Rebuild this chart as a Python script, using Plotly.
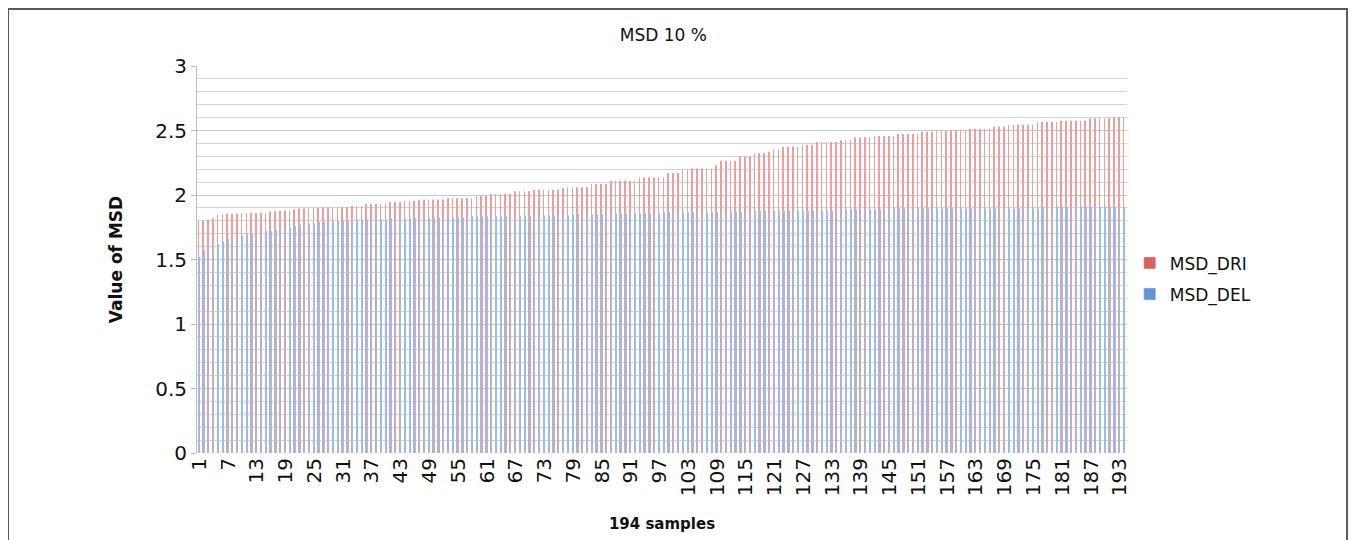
import plotly.graph_objects as go

samples = list(range(1, 195))

msd_dri = [
    1.800, 1.800, 1.810, 1.820, 1.845, 1.850, 1.855, 1.855, 1.855, 1.860,
    1.860, 1.860, 1.860, 1.860, 1.860, 1.875, 1.875, 1.880, 1.880, 1.880,
    1.890, 1.895, 1.895, 1.900, 1.900, 1.900, 1.905, 1.905, 1.905, 1.905,
    1.905, 1.905, 1.915, 1.915, 1.915, 1.930, 1.930, 1.930, 1.930, 1.930,
    1.945, 1.945, 1.945, 1.955, 1.955, 1.955, 1.960, 1.965, 1.965, 1.965,
    1.965, 1.965, 1.975, 1.975, 1.975, 1.975, 1.975, 1.975, 1.995, 1.995,
    1.995, 2.005, 2.008, 2.008, 2.010, 2.010, 2.030, 2.030, 2.030, 2.030,
    2.040, 2.040, 2.040, 2.040, 2.040, 2.040, 2.055, 2.060, 2.060, 2.060,
    2.060, 2.060, 2.085, 2.085, 2.085, 2.085, 2.110, 2.110, 2.110, 2.110,
    2.110, 2.110, 2.135, 2.135, 2.135, 2.135, 2.135, 2.135, 2.170, 2.170,
    2.170, 2.195, 2.195, 2.205, 2.205, 2.205, 2.205, 2.205, 2.230, 2.265,
    2.265, 2.265, 2.265, 2.300, 2.300, 2.300, 2.325, 2.325, 2.325, 2.335,
    2.355, 2.355, 2.375, 2.375, 2.375, 2.375, 2.390, 2.390, 2.390, 2.410,
    2.410, 2.410, 2.410, 2.410, 2.425, 2.425, 2.425, 2.445, 2.445, 2.445,
    2.445, 2.458, 2.458, 2.458, 2.458, 2.458, 2.472, 2.472, 2.472, 2.472,
    2.472, 2.490, 2.490, 2.490, 2.500, 2.500, 2.500, 2.500, 2.500, 2.500,
    2.500, 2.513, 2.513, 2.513, 2.513, 2.513, 2.530, 2.530, 2.530, 2.545,
    2.545, 2.545, 2.545, 2.545, 2.545, 2.565, 2.565, 2.565, 2.565, 2.565,
    2.575, 2.575, 2.575, 2.575, 2.575, 2.575, 2.595, 2.595, 2.595, 2.595,
    2.595, 2.603, 2.603, 2.603,
]

msd_del = [
    1.520, 1.570, 1.590, 1.610, 1.620, 1.640, 1.660, 1.665, 1.670, 1.685,
    1.700, 1.700, 1.700, 1.710, 1.720, 1.720, 1.730, 1.730, 1.740, 1.750,
    1.760, 1.770, 1.775, 1.780, 1.780, 1.790, 1.790, 1.800, 1.800, 1.800,
    1.800, 1.800, 1.800, 1.810, 1.810, 1.810, 1.810, 1.810, 1.810, 1.810,
    1.820, 1.820, 1.820, 1.820, 1.820, 1.820, 1.825, 1.825, 1.825, 1.825,
    1.825, 1.825, 1.825, 1.825, 1.825, 1.825, 1.825, 1.835, 1.835, 1.835,
    1.835, 1.835, 1.835, 1.835, 1.835, 1.835, 1.835, 1.835, 1.842, 1.842,
    1.842, 1.842, 1.842, 1.842, 1.842, 1.842, 1.842, 1.842, 1.850, 1.850,
    1.850, 1.850, 1.850, 1.850, 1.850, 1.856, 1.856, 1.856, 1.856, 1.856,
    1.856, 1.856, 1.856, 1.856, 1.856, 1.856, 1.856, 1.866, 1.866, 1.866,
    1.866, 1.866, 1.866, 1.866, 1.866, 1.866, 1.866, 1.866, 1.866, 1.866,
    1.866, 1.866, 1.866, 1.866, 1.866, 1.878, 1.878, 1.878, 1.878, 1.878,
    1.878, 1.878, 1.878, 1.878, 1.878, 1.878, 1.878, 1.878, 1.878, 1.878,
    1.878, 1.878, 1.878, 1.878, 1.889, 1.889, 1.889, 1.889, 1.889, 1.889,
    1.889, 1.889, 1.889, 1.889, 1.889, 1.896, 1.896, 1.896, 1.896, 1.896,
    1.896, 1.896, 1.896, 1.896, 1.896, 1.896, 1.896, 1.896, 1.896, 1.896,
    1.896, 1.896, 1.896, 1.896, 1.896, 1.896, 1.896, 1.896, 1.896, 1.896,
    1.896, 1.896, 1.896, 1.896, 1.896, 1.896, 1.909, 1.909, 1.909, 1.909,
    1.909, 1.909, 1.909, 1.909, 1.909, 1.909, 1.909, 1.909, 1.909, 1.909,
    1.909, 1.909, 1.909, 1.909,
]

tick_vals = [1, 7, 13, 19, 25, 31, 37, 43, 49, 55, 61, 67, 73, 79, 85, 91, 97,
             103, 109, 115, 121, 127, 133, 139, 145, 151, 157, 163, 169, 175,
             181, 187, 193]
tick_labels = [str(v) for v in tick_vals]

FONT = "DejaVu Sans"
RED = "#DA625E"
BLUE = "#6193D6"
RED_BAR = "#EA9F9C"
BLUE_BAR = "#9CBCE8"

fig = go.Figure()
fig.add_trace(go.Bar(x=samples, y=msd_dri, name="MSD_DRI", legendgroup="a",
                     showlegend=False, marker=dict(color=RED_BAR, line=dict(width=0))))
fig.add_trace(go.Bar(x=samples, y=msd_del, name="MSD_DEL", legendgroup="b",
                     showlegend=False, marker=dict(color=BLUE_BAR, line=dict(width=0))))
# legend entries in the saturated series colours
fig.add_trace(go.Bar(x=[None], y=[None], name="MSD_DRI", legendgroup="a",
                     marker=dict(color=RED)))
fig.add_trace(go.Bar(x=[None], y=[None], name="MSD_DEL", legendgroup="b",
                     marker=dict(color=BLUE)))

# page has an 8px body margin, so margins are offset accordingly
fig.update_layout(
    width=1357, height=540,
    margin=dict(l=189, r=238, t=58, b=95),
    paper_bgcolor="white", plot_bgcolor="white",
    barmode="group", bargap=0.45, bargroupgap=0.0,
    font=dict(family=FONT, color="#111111"),
    title=dict(text="MSD 10 %", x=0.483, xanchor="center", y=0.95,
               yanchor="middle", font=dict(size=17, family=FONT, color="#111")),
    showlegend=True,
    legend=dict(x=1.003, y=0.45, xanchor="left", yanchor="middle",
                font=dict(size=17, family=FONT, color="#111"),
                tracegroupgap=6, bgcolor="rgba(0,0,0,0)"),
    xaxis=dict(
        range=[0.5, 194.5], tickmode="array", tickvals=tick_vals,
        ticktext=tick_labels, tickangle=-90, showgrid=False, zeroline=False,
        showline=False, ticks="", tickfont=dict(size=20, family=FONT, color="#111"),
        title=dict(text="<b>194 samples</b>", font=dict(size=15, family=FONT, color="#111"),
                   standoff=23),
    ),
    yaxis=dict(
        range=[0, 3], tickmode="linear", tick0=0, dtick=0.5,
        showgrid=True, gridcolor="#c9c9c9", gridwidth=1,
        minor=dict(dtick=0.1, showgrid=True, gridcolor="#d4d4d4", gridwidth=1),
        zeroline=False, showline=True, linecolor="#bdbdbd", linewidth=1,
        ticks="outside", ticklen=5, tickcolor="#bdbdbd",
        tickfont=dict(size=20, family=FONT, color="#111"),
        title=dict(text="<b>Value of MSD</b>", font=dict(size=17, family=FONT, color="#111"),
                   standoff=28),
    ),
    shapes=[dict(type="rect", xref="paper", yref="paper",
                 x0=-0.2032, x1=1.2366, y0=-0.25, y1=1.147,
                 line=dict(color="#5a5a5a", width=2), fillcolor="rgba(0,0,0,0)",
                 layer="below")],
)

fig.write_html("out.html")
